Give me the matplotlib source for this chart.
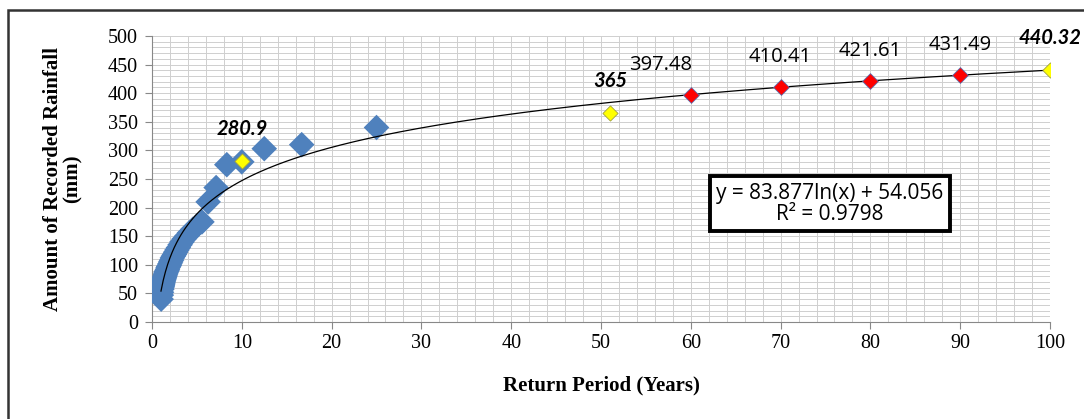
import numpy as np
import matplotlib.pyplot as plt
from matplotlib.patches import Rectangle
from matplotlib.ticker import MultipleLocator

# observed annual maxima, plotted at their return period
obs_period = [25.0, 16.67, 12.5, 10.0, 8.33, 7.14, 6.25, 5.56, 5.0, 4.55, 4.17,
              3.85, 3.57, 3.33, 3.125, 2.94, 2.78, 2.63, 2.5, 2.38, 2.27, 2.17,
              2.08, 2.0, 1.92, 1.85, 1.79, 1.72, 1.67, 1.61, 1.56, 1.52, 1.47,
              1.43, 1.39, 1.35, 1.32, 1.28, 1.25, 1.22, 1.19, 1.16, 1.14, 1.11,
              1.09, 1.06, 1.04, 1.02]
obs_rain = [340, 310, 303, 280, 275, 235, 210, 175, 168, 162, 156,
            150, 145, 140, 135, 130, 126, 122, 118, 115, 112, 108,
            105, 102, 99, 97, 95, 92, 90, 88, 86, 84, 82,
            80, 78, 76, 74, 72, 70, 68, 66, 64, 62, 60,
            57, 52, 47, 40]

# highlighted points (yellow) and predicted points (red)
hi_period = [10, 51, 100]
hi_rain = [280.9, 365, 440.32]
hi_labels = ['280.9', '365', '440.32']

pred_period = [60, 70, 80, 90]
pred_rain = [397.48, 410.41, 421.61, 431.49]
pred_labels = ['397.48', '410.41', '421.61', '431.49']

# fitted trendline y = a ln(x) + b
fit_a = 83.877
fit_b = 54.056
fit_r2 = 0.9798

fig = plt.figure(figsize=(10.84, 4.19), dpi=100)
ax = fig.add_axes([152 / 1084, 1 - 322 / 419, 898 / 1084, 286 / 419])

grid_c = '#cfcfcf'
ax.set_xlim(0, 100)
ax.set_ylim(0, 500)
ax.xaxis.set_major_locator(MultipleLocator(10))
ax.xaxis.set_minor_locator(MultipleLocator(2))
ax.yaxis.set_major_locator(MultipleLocator(50))
ax.yaxis.set_minor_locator(MultipleLocator(10))
ax.grid(which='both', color=grid_c, linewidth=0.7)
ax.set_axisbelow(True)
for side in ['top', 'right']:
    ax.spines[side].set_visible(False)
for side in ['left', 'bottom']:
    ax.spines[side].set_color('#888888')
ax.tick_params(which='major', direction='out', length=5, color='#888888',
               labelsize=14.5)
ax.tick_params(axis='y', pad=5)
ax.tick_params(which='minor', length=0)
for lab in ax.get_xticklabels() + ax.get_yticklabels():
    lab.set_family('Liberation Serif')

tx = np.linspace(1.0, 100, 400)
ax.plot(tx, fit_a * np.log(tx) + fit_b, color='black', linewidth=0.9, zorder=4)

ax.scatter(obs_period, obs_rain, marker='D', s=170, color='#4f81bd',
           edgecolors='none', zorder=3)
ax.scatter(pred_period, pred_rain, marker='D', s=65, color='#ff0000',
           edgecolors='#5b6fb0', linewidths=0.6, zorder=5)
ax.scatter(hi_period, hi_rain, marker='D', s=60, color='#ffff00',
           edgecolors='#a0a040', linewidths=0.6, zorder=5)

for x, y, t in zip(hi_period, hi_rain, hi_labels):
    ax.annotate(t, (x, y), xytext=(0, 19), textcoords='offset points',
                ha='center', fontsize=14.5, fontweight='bold', fontstyle='italic',
                family='Lato', annotation_clip=False)
offs = [-22, 0, 0, 0]
for x, y, t, dx in zip(pred_period, pred_rain, pred_labels, offs):
    ax.annotate(t, (x, y), xytext=(dx, 18), textcoords='offset points',
                ha='center', fontsize=14.5, family='Open Sans',
                annotation_clip=False)

ax.text(75.5, 207, f'y = {fit_a}ln(x) + {fit_b}\nR² = {fit_r2}',
        ha='center', va='center', fontsize=15, family='Open Sans',
        linespacing=1.0, zorder=6,
        bbox=dict(boxstyle='square,pad=0.3', facecolor='white',
                  edgecolor='black', linewidth=2.8))

ax.set_xlabel('Return Period (Years)', fontsize=15, fontweight='bold',
              family='Liberation Serif', labelpad=16)
ax.set_ylabel('Amount of Recorded Rainfall\n(mm)', fontsize=15,
              fontweight='bold', family='Liberation Serif', labelpad=18,
              linespacing=1.0)

# outer chart border
fig.patches.append(Rectangle((8 / 1084, -0.05), 1.1, 1 - 10 / 419 + 0.05,
                             transform=fig.transFigure, fill=False,
                             edgecolor='#333333', linewidth=1.8))

fig.savefig('out.png', dpi=100)
